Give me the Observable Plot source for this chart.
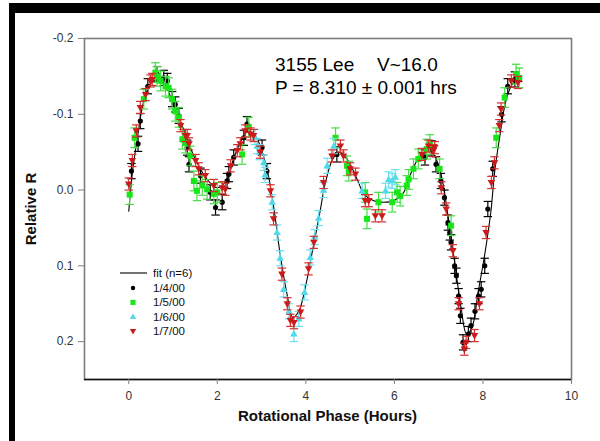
<!DOCTYPE html>
<html><head><meta charset="utf-8">
<script src="https://cdn.jsdelivr.net/npm/d3@7"></script>
<script src="https://cdn.jsdelivr.net/npm/@observablehq/plot@0.6"></script>
<style>
html,body{margin:0;padding:0;background:#fff;}
#wrap{position:relative;width:600px;height:441px;overflow:hidden;background:#fff;}
.bar{position:absolute;background:#000;}
</style></head><body>
<div id="wrap"></div>
<script>
// ---- data ----
const fitX = [0.00,0.08,0.19,0.34,0.49,0.64,0.83,1.02,1.24,1.47,1.77,2.00,2.22,2.37,2.60,2.71,2.90,3.12,3.27,3.42,3.58,3.70,3.84,4.00,4.15,4.30,4.45,4.60,4.74,4.93,5.16,5.31,5.53,5.76,5.98,6.21,6.35,6.58,6.77,6.91,7.06,7.21,7.36,7.51,7.63,7.75,7.89,8.04,8.18,8.26,8.37,8.52,8.67,8.80,8.88];
const fitY = [0.028,-0.022,-0.067,-0.118,-0.140,-0.145,-0.137,-0.111,-0.080,-0.045,-0.014,-0.003,-0.014,-0.042,-0.072,-0.078,-0.067,-0.028,0.021,0.085,0.139,0.168,0.160,0.125,0.080,0.035,-0.012,-0.040,-0.050,-0.041,-0.014,0.005,0.014,0.016,0.014,0.003,-0.019,-0.045,-0.052,-0.045,-0.019,0.034,0.095,0.157,0.190,0.182,0.135,0.085,0.028,-0.022,-0.067,-0.118,-0.140,-0.145,-0.143];

const obs0104 = [[0.06,-0.025],[0.21,-0.061],[0.26,-0.091],[0.43,-0.137],[0.64,-0.153],[0.79,-0.148],[0.87,-0.144],[0.98,-0.120],[1.05,-0.113],[1.13,-0.098],[1.32,-0.056],[1.36,-0.034],[1.62,-0.019],[1.84,0.003],[1.96,0.023],[2.11,0.016],[2.22,-0.012],[2.26,-0.021],[2.37,-0.043],[2.60,-0.069],[2.67,-0.087],[3.01,-0.056],[3.12,-0.025],[4.70,-0.047],[6.69,-0.043],[6.84,-0.055],[6.94,-0.034],[7.05,-0.012],[7.13,0.010],[7.21,0.043],[7.25,0.056],[7.28,0.069],[7.36,0.100],[7.40,0.113],[7.45,0.140],[7.49,0.166],[7.55,0.201],[7.67,0.190],[7.73,0.179],[7.82,0.160],[7.90,0.140],[7.96,0.131],[8.04,0.100],[8.11,0.025],[8.22,-0.028],[8.42,-0.100],[8.56,-0.137],[8.72,-0.146]];
const obs0105 = [[0.02,0.006],[0.13,-0.069],[0.34,-0.120],[0.60,-0.155],[0.64,-0.150],[0.72,-0.144],[0.83,-0.137],[0.90,-0.135],[0.98,-0.120],[1.05,-0.104],[1.13,-0.096],[1.21,-0.067],[1.28,-0.062],[1.39,-0.045],[1.47,-0.012],[1.54,0.001],[1.66,-0.006],[1.77,-0.001],[1.92,0.005],[2.00,0.003],[2.56,-0.047],[2.71,-0.083],[4.67,-0.069],[4.93,-0.032],[4.97,-0.025],[5.34,0.003],[5.38,0.038],[5.64,0.016],[5.95,0.016],[6.06,0.003],[6.13,0.008],[6.28,-0.006],[6.32,-0.014],[6.43,-0.028],[6.54,-0.041],[6.73,-0.054],[6.80,-0.060],[7.02,-0.028],[7.28,0.047],[8.30,-0.069],[8.49,-0.122],[8.75,-0.153],[8.82,-0.148]];
const obs0106 = [[2.85,-0.070],[2.90,-0.058],[2.96,-0.050],[3.05,-0.036],[3.08,-0.020],[3.24,0.016],[3.35,0.056],[3.42,0.090],[3.50,0.131],[3.62,0.160],[3.73,0.190],[3.84,0.170],[3.97,0.135],[4.10,0.089],[4.20,0.062],[4.29,0.037],[4.40,0.000],[4.48,-0.032],[4.63,-0.058],[5.27,0.001],[5.80,0.001],[5.87,-0.014],[5.95,-0.012],[6.02,-0.017]];
const obs0107 = [[0.00,-0.008],[0.08,-0.039],[0.17,-0.078],[0.26,-0.109],[0.38,-0.126],[0.49,-0.144],[0.53,-0.146],[1.17,-0.085],[1.28,-0.072],[1.32,-0.072],[1.36,-0.061],[1.51,-0.039],[1.58,-0.028],[1.73,-0.019],[1.92,-0.006],[2.11,-0.003],[2.18,-0.001],[2.30,-0.032],[2.45,-0.052],[2.52,-0.061],[2.63,-0.078],[2.75,-0.074],[2.82,-0.072],[2.97,-0.050],[3.20,0.001],[3.27,0.038],[3.46,0.111],[3.58,0.150],[3.65,0.172],[3.73,0.175],[3.88,0.161],[4.06,0.104],[4.18,0.069],[4.40,-0.010],[4.59,-0.045],[4.78,-0.058],[4.85,-0.045],[5.00,-0.028],[5.12,-0.021],[5.34,0.014],[5.42,0.014],[5.57,0.034],[5.72,0.034],[6.62,-0.047],[6.77,-0.058],[6.88,-0.052],[6.91,-0.056],[7.06,-0.003],[7.17,0.025],[7.32,0.080],[7.45,0.150],[7.58,0.210],[7.62,0.201],[7.81,0.192],[7.92,0.150],[8.07,0.056],[8.19,-0.010],[8.26,-0.036],[8.37,-0.085],[8.41,-0.107],[8.64,-0.144],[8.79,-0.142]];

const seriesLabels = ["1/4/00","1/5/00","1/6/00","1/7/00"];
const seriesObs = [obs0104, obs0105, obs0106, obs0107];
const errorHalf = [0.010, 0.013, 0.010, 0.008];
const xTicks = [0,2,4,6,8,10];
const yTicks = [-0.2,-0.1,0.0,0.1,0.2];
const fitLabel = "fit (n=6)";
const titleLine1a = "3155 Lee";
const titleLine1b = "V~16.0";
const titleLine2 = "P = 8.310 \u00b1 0.001 hrs";
const xLabel = "Rotational Phase (Hours)";
const yLabel = "Relative R";

(function(){
const FONT = "'Liberation Sans', Arial, sans-serif";
const markerColor = ["#000000","#19e619","#4fd9ea","#cc1a1a"];
const barColor = ["#000000","#45dd45","#6fe0ee","#d53030"];
const markerR = [2.6, 3.4, 3.6, 3.6];

const capSym = {draw(ctx, size){ const r = Math.sqrt(size/Math.PI); ctx.moveTo(-r,0); ctx.lineTo(r,0);} };
const triUp = {draw(ctx, size){ const s = Math.sqrt(size/Math.PI)*1.1; ctx.moveTo(0,-s); ctx.lineTo(s*0.95,s*0.65); ctx.lineTo(-s*0.95,s*0.65); ctx.closePath(); } };
const triDown = {draw(ctx, size){ const s = Math.sqrt(size/Math.PI)*1.1; ctx.moveTo(0,s); ctx.lineTo(s*0.95,-s*0.65); ctx.lineTo(-s*0.95,-s*0.65); ctx.closePath(); } };
const symbols = ["circle","square",triUp,triDown];

const fitData = fitX.map((x,i)=>({x, y: fitY[i]}));

const marks = [
  Plot.frame({stroke:"#7c7c7c", strokeWidth:1.6}),
  Plot.ruleY([0.25], {stroke:"#111", strokeWidth:1.3}),
  Plot.axisY(yTicks, {tickFormat: d => d.toFixed(1), tickSize: 6, tickPadding: 5, stroke:"#808080", fill:"#333", fontSize: 12, label: null}),
  Plot.axisX(xTicks, {tickFormat: d => String(d), tickSize: 5, tickPadding: 7, stroke:"#808080", fill:"#333", fontSize: 12, label: null}),
  Plot.line(fitData, {x:"x", y:"y", curve:"catmull-rom", stroke:"#000", strokeWidth:1.1})
];

seriesObs.forEach((arr, k) => {
  const data = arr.map(([x,y]) => ({x, y}));
  const e = errorHalf[k];
  marks.push(
    Plot.ruleX(data, {x:"x", y1: d => d.y - e, y2: d => d.y + e, stroke: barColor[k], strokeWidth: 1.2}),
    Plot.dot(data, {x:"x", y: d => d.y - e, symbol: capSym, r: 4.2, stroke: barColor[k], fill:"none", strokeWidth: 1.2}),
    Plot.dot(data, {x:"x", y: d => d.y + e, symbol: capSym, r: 4.2, stroke: barColor[k], fill:"none", strokeWidth: 1.2}),
    Plot.dot(data, {x:"x", y:"y", symbol: symbols[k], r: markerR[k], fill: markerColor[k], stroke:"none"})
  );
});

const chart = Plot.plot({
  width: 600, height: 441,
  marginLeft: 84, marginRight: 29, marginTop: 38, marginBottom: 62,
  style: {fontFamily: FONT, fontSize: "12px", background: "transparent"},
  x: {domain: [-1, 10]},
  y: {domain: [-0.2, 0.25], reverse: true},
  marks
});

const wrap = document.getElementById("wrap");
wrap.appendChild(chart);

const svg = d3.select(chart);
const ann = svg.append("g").attr("font-family", FONT).attr("font-size", 19).attr("fill","#000").attr("text-anchor","start");
ann.append("text").attr("x", 275).attr("y", 71).text(titleLine1a);
ann.append("text").attr("x", 377).attr("y", 71).text(titleLine1b);
ann.append("text").attr("x", 275).attr("y", 94).text(titleLine2);

const lab = svg.append("g").attr("font-family", FONT).attr("font-size", 15).attr("font-weight","bold").attr("fill","#111").attr("text-anchor","middle");
lab.append("text").attr("x", 327.5).attr("y", 421).text(xLabel);
lab.append("text").attr("transform","translate(36,209) rotate(-90)").text(yLabel);

const lg = svg.append("g").attr("font-family", FONT).attr("font-size", 11.5).attr("fill","#111").attr("text-anchor","start");
lg.append("line").attr("x1",120).attr("x2",147).attr("y1",273).attr("y2",273).attr("stroke","#000").attr("stroke-width",1.1);
lg.append("text").attr("x",153).attr("y",277).text(fitLabel);
seriesLabels.forEach((s, k) => {
  const yy = 288 + k*14.4;
  const sym = typeof symbols[k] === "string" ? (symbols[k]==="circle" ? d3.symbolCircle : d3.symbolSquare) : symbols[k];
  const rr = markerR[k]*0.85;
  lg.append("path").attr("transform",`translate(133,${yy})`).attr("d", d3.symbol(sym, Math.PI*rr*rr)()).attr("fill", markerColor[k]);
  lg.append("text").attr("x",153).attr("y",yy+4).text(s);
});

const barTop = document.createElement("div"); barTop.className="bar";
Object.assign(barTop.style,{left:"9px",top:"3px",width:"591px",height:"10px"});
const barLeft = document.createElement("div"); barLeft.className="bar";
Object.assign(barLeft.style,{left:"9px",top:"3px",width:"6px",height:"438px"});
wrap.appendChild(barTop); wrap.appendChild(barLeft);
})();
</script>
</body></html>
